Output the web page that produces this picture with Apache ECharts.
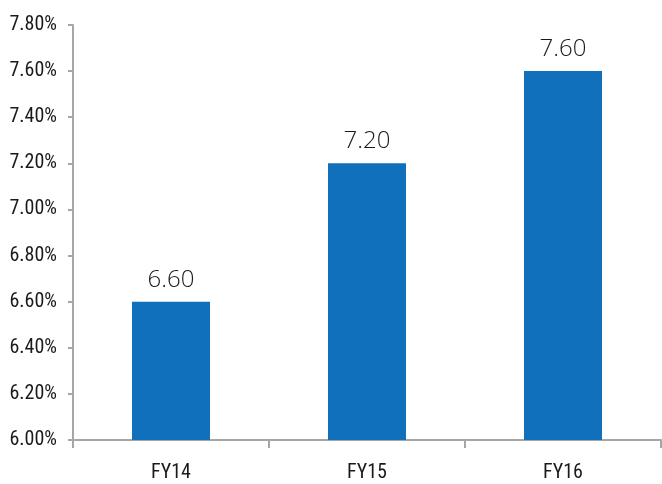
<!DOCTYPE html>
<html>
<head>
<meta charset="utf-8">
<script src="https://cdn.jsdelivr.net/npm/echarts@6/dist/echarts.min.js"></script>
<style>
  html, body { margin: 0; padding: 0; background: #fff; }
  #chart { width: 662px; height: 484px; }
</style>
</head>
<body>
<div id="chart"></div>
<script>
// Fiscal years and growth rate (%)
const categories = ['FY14', 'FY15', 'FY16'];
const growthValues = [6.60, 7.20, 7.60];
const yMin = 6.0;
const yMax = 7.8;
const yStep = 0.2;

const chart = echarts.init(document.getElementById('chart'));
const axisGrey = '#a6a6a6';
const axisFont = 'Roboto Condensed, Liberation Sans Narrow, DejaVu Sans Condensed, sans-serif';

chart.setOption({
  animation: false,
  grid: { left: 73, right: 1, top: 25, bottom: 44 },
  xAxis: {
    type: 'category',
    data: categories,
    axisLine: { lineStyle: { color: axisGrey, width: 2 } },
    axisTick: { show: true, length: 8, lineStyle: { color: axisGrey, width: 2 } },
    axisLabel: {
      color: '#1a1a1a',
      fontFamily: axisFont,
      fontSize: 20,
      margin: 23
    }
  },
  yAxis: {
    type: 'value',
    min: yMin,
    max: yMax,
    interval: yStep,
    splitLine: { show: false },
    axisLine: { show: true, lineStyle: { color: axisGrey, width: 2 } },
    axisTick: { show: true, length: 5, lineStyle: { color: axisGrey, width: 2 } },
    axisLabel: {
      color: '#1a1a1a',
      fontFamily: axisFont,
      fontSize: 20,
      margin: 16,
      formatter: v => v.toFixed(2) + '%'
    }
  },
  series: [{
    type: 'bar',
    data: growthValues,
    barWidth: 78,
    itemStyle: { color: '#1170bb' },
    label: {
      show: true,
      position: 'top',
      distance: 10,
      color: '#1a1a1a',
      fontFamily: 'Open Sans, Lato, sans-serif',
      fontWeight: 300,
      fontSize: 24,
      formatter: p => p.value.toFixed(2)
    }
  }]
});
</script>
</body>
</html>
